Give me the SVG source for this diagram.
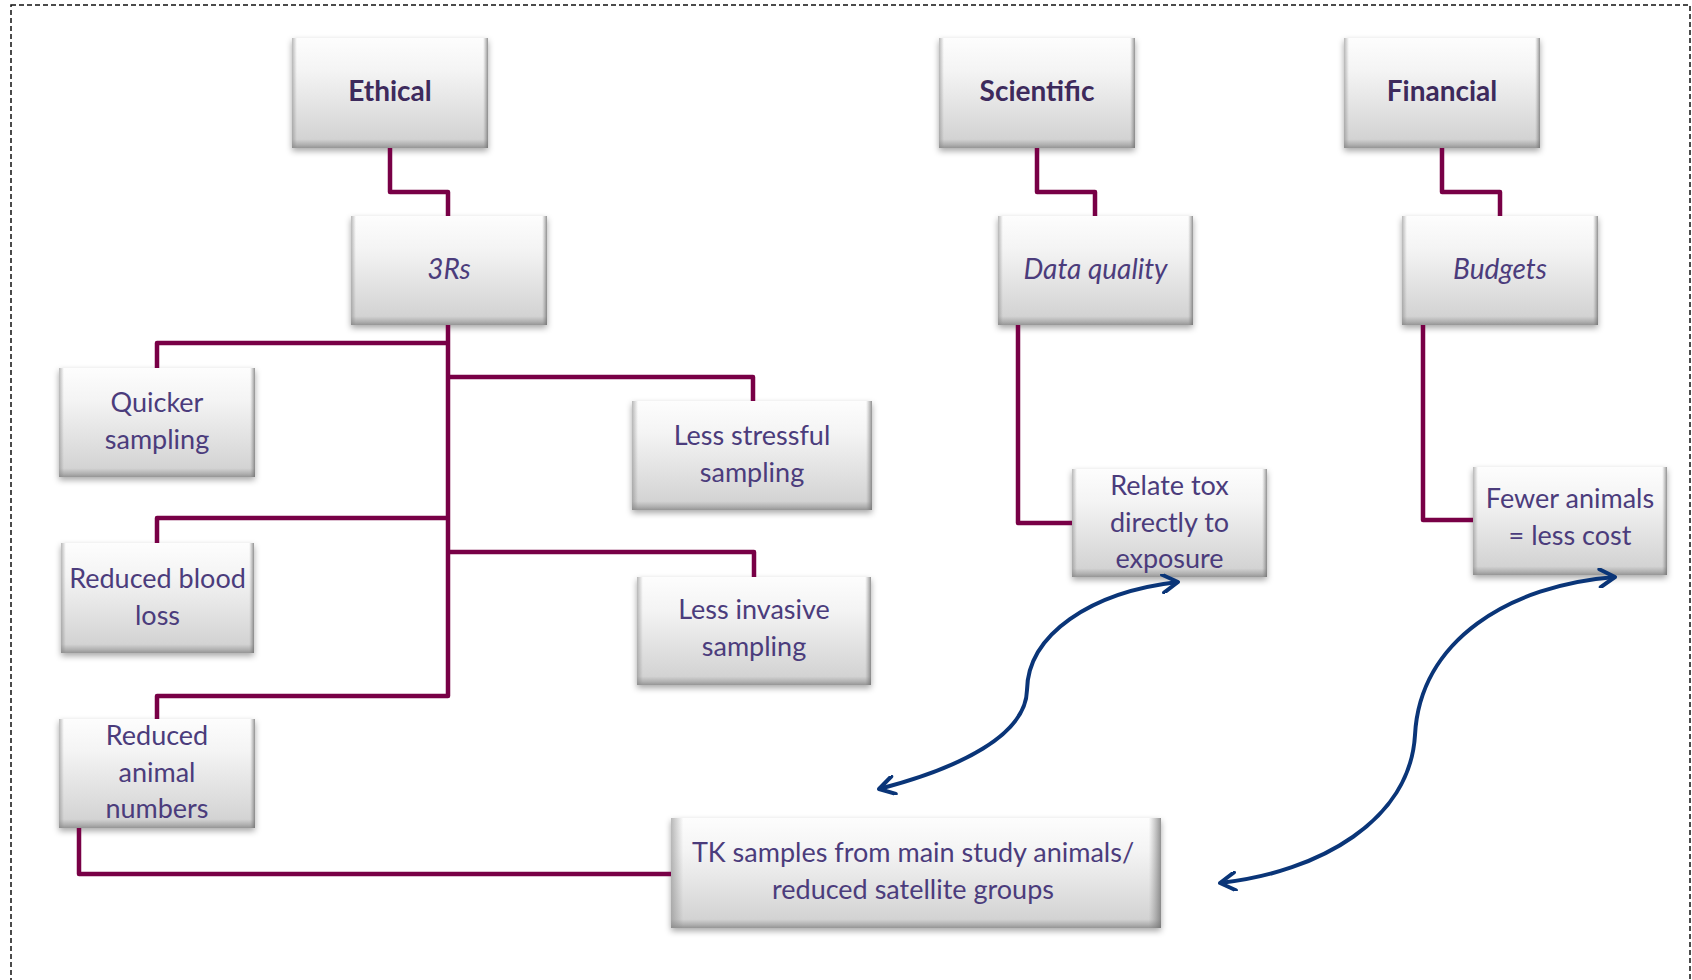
<svg xmlns="http://www.w3.org/2000/svg" width="1692" height="980" viewBox="0 0 1692 980">
  <defs>
    <linearGradient id="gV" x1="0" y1="0" x2="0" y2="1">
      <stop offset="0" stop-color="#fdfdfd"/>
      <stop offset="0.3" stop-color="#f4f4f4"/>
      <stop offset="0.92" stop-color="#d3d3d3"/>
      <stop offset="0.97" stop-color="#b0b0b0"/>
      <stop offset="1" stop-color="#959595"/>
    </linearGradient>
    <linearGradient id="gH" x1="0" y1="0" x2="1" y2="0">
      <stop offset="0" stop-color="#8a8a8a" stop-opacity="0.6"/>
      <stop offset="0.025" stop-color="#8a8a8a" stop-opacity="0"/>
      <stop offset="0.975" stop-color="#8a8a8a" stop-opacity="0"/>
      <stop offset="1" stop-color="#6e6e6e" stop-opacity="0.75"/>
    </linearGradient>
    <filter id="sh" x="-10%" y="-10%" width="120%" height="130%">
      <feDropShadow dx="0" dy="3" stdDeviation="3" flood-color="#000" flood-opacity="0.35"/>
    </filter>
    <marker id="chev" viewBox="0 0 20 20" refX="18" refY="10" markerWidth="20" markerHeight="20" markerUnits="userSpaceOnUse" orient="auto-start-reverse">
      <path d="M3,1 L18,10 L3,19" fill="none" stroke="#0a3578" stroke-width="4" stroke-linecap="round" stroke-linejoin="round"/>
    </marker>
    <style>
      .box { fill: url(#gV); filter: url(#sh); }
      .edge { fill: url(#gH); }
      .t { font-family: Lato, "Liberation Sans", sans-serif; font-size: 27px; fill: #4b3c7c; text-anchor: middle; }
      .b { font-weight: bold; font-size: 28px; fill: #3d2a5c; }
      .i { font-style: italic; font-size: 28px; }
      .link { fill: none; stroke: #780046; stroke-width: 4.5; stroke-linejoin: round; }
      .arrow { fill: none; stroke: #0a3578; stroke-width: 4; marker-start: url(#chev); marker-end: url(#chev); }
      .frame { fill: none; stroke: #111; stroke-width: 1.5; stroke-dasharray: 5 3; }
    </style>
  </defs>

  <rect width="1692" height="980" fill="#fff"/>
  <rect class="frame" x="11" y="5" width="1679" height="1010"/>

  <g id="n-ethical">
    <rect class="box" x="292" y="38" width="196" height="110"/>
    <rect class="edge" x="292" y="38" width="196" height="110"/>
    <text class="t b" x="390" y="101">Ethical</text>
  </g>
  <g id="n-scientific">
    <rect class="box" x="939" y="38" width="196" height="110"/>
    <rect class="edge" x="939" y="38" width="196" height="110"/>
    <text class="t b" x="1037" y="101">Scientific</text>
  </g>
  <g id="n-financial">
    <rect class="box" x="1344" y="38" width="196" height="110"/>
    <rect class="edge" x="1344" y="38" width="196" height="110"/>
    <text class="t b" x="1442" y="101">Financial</text>
  </g>
  <g id="n-3rs">
    <rect class="box" x="351" y="216" width="196" height="109"/>
    <rect class="edge" x="351" y="216" width="196" height="109"/>
    <text class="t i" x="449" y="279">3Rs</text>
  </g>
  <g id="n-dataquality">
    <rect class="box" x="998" y="216" width="195" height="109"/>
    <rect class="edge" x="998" y="216" width="195" height="109"/>
    <text class="t i" x="1095.5" y="279">Data quality</text>
  </g>
  <g id="n-budgets">
    <rect class="box" x="1402" y="216" width="196" height="109"/>
    <rect class="edge" x="1402" y="216" width="196" height="109"/>
    <text class="t i" x="1500" y="279">Budgets</text>
  </g>
  <g id="n-quicker">
    <rect class="box" x="59" y="368" width="196" height="109"/>
    <rect class="edge" x="59" y="368" width="196" height="109"/>
    <text class="t" x="157" y="412">Quicker</text>
    <text class="t" x="157" y="449">sampling</text>
  </g>
  <g id="n-lessstressful">
    <rect class="box" x="632" y="401" width="240" height="109"/>
    <rect class="edge" x="632" y="401" width="240" height="109"/>
    <text class="t" x="752" y="445">Less stressful</text>
    <text class="t" x="752" y="482">sampling</text>
  </g>
  <g id="n-reducedblood">
    <rect class="box" x="61" y="543" width="193" height="110"/>
    <rect class="edge" x="61" y="543" width="193" height="110"/>
    <text class="t" x="157.5" y="588">Reduced blood</text>
    <text class="t" x="157.5" y="625">loss</text>
  </g>
  <g id="n-lessinvasive">
    <rect class="box" x="637" y="577" width="234" height="108"/>
    <rect class="edge" x="637" y="577" width="234" height="108"/>
    <text class="t" x="754" y="619">Less invasive</text>
    <text class="t" x="754" y="656">sampling</text>
  </g>
  <g id="n-reducedanimal">
    <rect class="box" x="59" y="719" width="196" height="109"/>
    <rect class="edge" x="59" y="719" width="196" height="109"/>
    <text class="t" x="157" y="745">Reduced</text>
    <text class="t" x="157" y="782">animal</text>
    <text class="t" x="157" y="818">numbers</text>
  </g>
  <g id="n-relatetox">
    <rect class="box" x="1072" y="469" width="195" height="108"/>
    <rect class="edge" x="1072" y="469" width="195" height="108"/>
    <text class="t" x="1169.5" y="495">Relate tox</text>
    <text class="t" x="1169.5" y="532">directly to</text>
    <text class="t" x="1169.5" y="568">exposure</text>
  </g>
  <g id="n-fewer">
    <rect class="box" x="1473" y="467" width="194" height="108"/>
    <rect class="edge" x="1473" y="467" width="194" height="108"/>
    <text class="t" x="1570" y="508">Fewer animals</text>
    <text class="t" x="1570" y="545">= less cost</text>
  </g>
  <g id="n-tk">
    <rect class="box" x="671" y="818" width="490" height="110"/>
    <rect class="edge" x="671" y="818" width="490" height="110"/>
    <text class="t" x="913" y="862">TK samples from main study animals/</text>
    <text class="t" x="913" y="899">reduced satellite groups</text>
  </g>

  <g id="connectors">
    <path class="link" d="M390 148 V192 H448 V216"/>
    <path class="link" d="M1037 148 V192 H1095 V216"/>
    <path class="link" d="M1442 148 V192 H1500 V216"/>
    <path class="link" d="M448 325 V696 H157 V719"/>
    <path class="link" d="M448 343 H157 V368"/>
    <path class="link" d="M448 518 H157 V543"/>
    <path class="link" d="M448 377 H753 V401"/>
    <path class="link" d="M448 552 H754 V577"/>
    <path class="link" d="M1018 325 V523 H1072"/>
    <path class="link" d="M1423 325 V520 H1473"/>
    <path class="link" d="M79 828 V874 H671"/>
    <path class="arrow" d="M879 789 C960 768 1026 735 1027 690 C1028 635 1090 592 1178 582"/>
    <path class="arrow" d="M1220 883 C1320 872 1410 820 1415 735 C1420 640 1510 585 1615 577"/>
  </g>
</svg>
